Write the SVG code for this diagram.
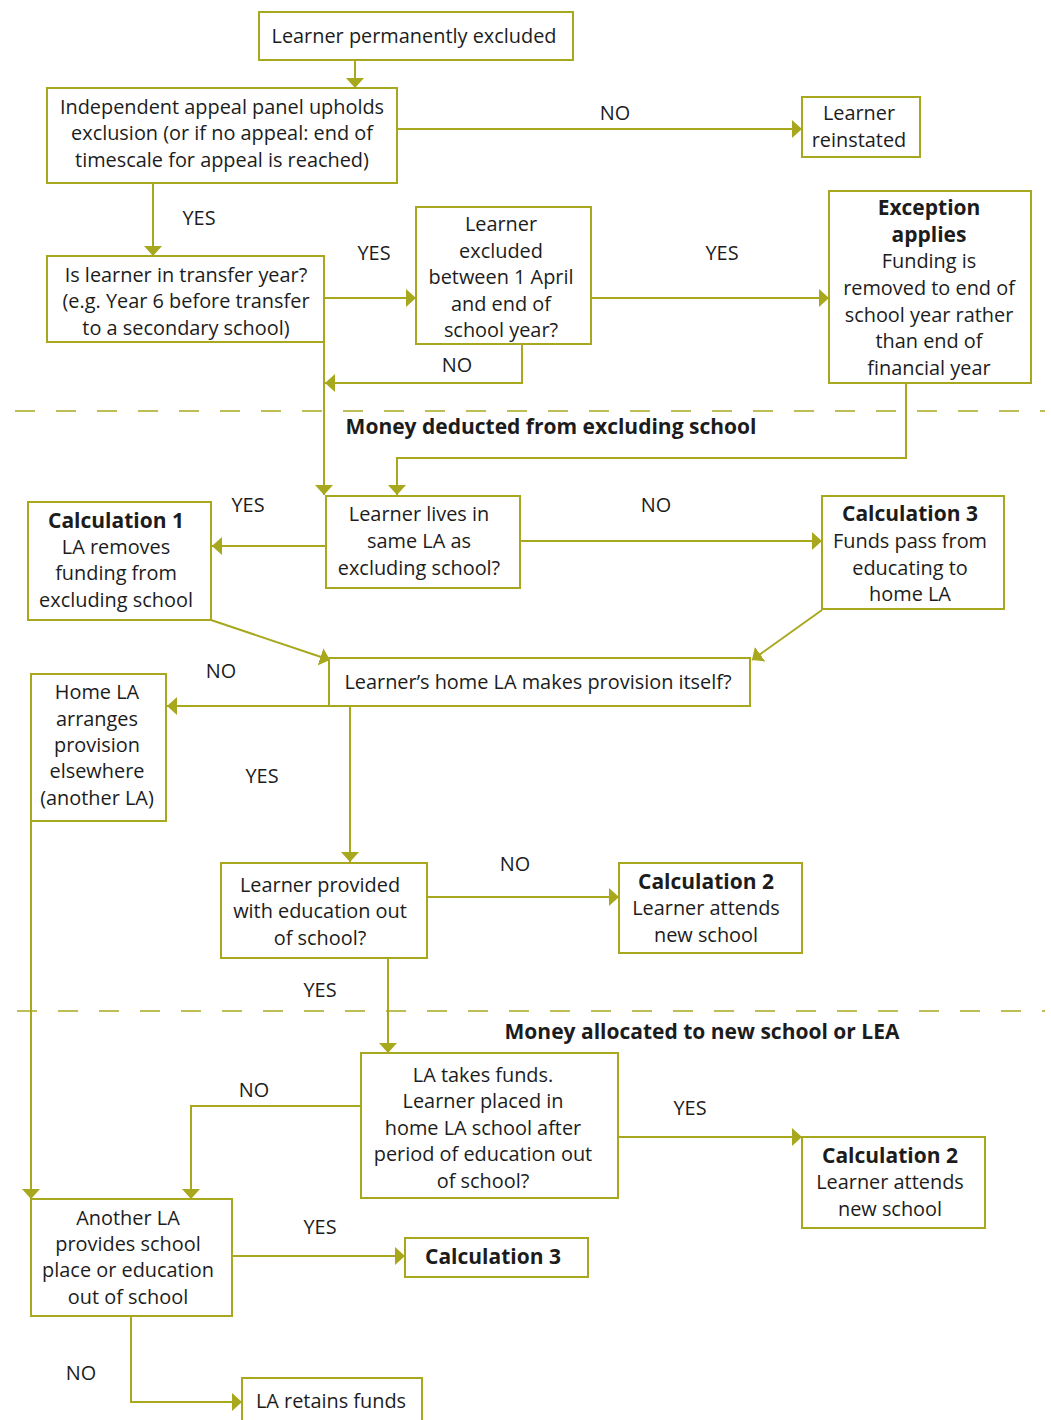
<svg xmlns="http://www.w3.org/2000/svg" width="1051" height="1420" viewBox="0 0 1051 1420">
<style>
.box{fill:#fff;stroke:#A8A81E;stroke-width:2}
.t{font-family:"Open Sans","Noto Sans",sans-serif;font-size:19.9px;fill:#1c1c1c;text-anchor:middle}
.b{font-weight:bold;font-size:21px}
.c{fill:none;stroke:#A8A81E;stroke-width:2}
.d{fill:none;stroke:#A8A81E;stroke-width:1.5;stroke-dasharray:20 21}
</style>
<defs>
<marker id="ah" viewBox="0 0 10 18" refX="10" refY="9" markerWidth="10" markerHeight="18" markerUnits="userSpaceOnUse" orient="auto">
<path d="M0,0 L10,9 L0,18 Z" fill="#A8A81E"/>
</marker>
</defs>
<rect width="1051" height="1420" fill="#fff"/>

<g id="dividers">
<line class="d" x1="15" y1="411" x2="1045" y2="411"/>
<line class="d" x1="17" y1="1011" x2="1045" y2="1011"/>
<text class="t b" x="551" y="434">Money deducted from excluding school</text>
<text class="t b" x="702" y="1039">Money allocated to new school or LEA</text>
</g>

<g id="connectors">
<path class="c" d="M355,60 V88" marker-end="url(#ah)"/>
<path class="c" d="M397,129 H802" marker-end="url(#ah)"/>
<path class="c" d="M153,183 V256" marker-end="url(#ah)"/>
<path class="c" d="M324,298 H416" marker-end="url(#ah)"/>
<path class="c" d="M591,298 H829" marker-end="url(#ah)"/>
<path class="c" d="M522,344 V383 H325" marker-end="url(#ah)"/>
<path class="c" d="M324,342 V495" marker-end="url(#ah)"/>
<path class="c" d="M906,383 V458 H397 V495" marker-end="url(#ah)"/>
<path class="c" d="M326,546 H212" marker-end="url(#ah)"/>
<path class="c" d="M520,541 H822" marker-end="url(#ah)"/>
<path class="c" d="M211,620 L330,660" marker-end="url(#ah)"/>
<path class="c" d="M822,610 L752,660" marker-end="url(#ah)"/>
<path class="c" d="M329,706 H167" marker-end="url(#ah)"/>
<path class="c" d="M350,706 V862" marker-end="url(#ah)"/>
<path class="c" d="M427,897 H619" marker-end="url(#ah)"/>
<path class="c" d="M388,958 V1053" marker-end="url(#ah)"/>
<path class="c" d="M618,1137 H802" marker-end="url(#ah)"/>
<path class="c" d="M361,1106 H191 V1199" marker-end="url(#ah)"/>
<path class="c" d="M31,821 V1199" marker-end="url(#ah)"/>
<path class="c" d="M232,1256 H405" marker-end="url(#ah)"/>
<path class="c" d="M131,1316 V1402 H242" marker-end="url(#ah)"/>
<g class="lbl">
<text class="t" x="615" y="120">NO</text>
<text class="t" x="199" y="225">YES</text>
<text class="t" x="374" y="260">YES</text>
<text class="t" x="722" y="260">YES</text>
<text class="t" x="457" y="372">NO</text>
<text class="t" x="248" y="512">YES</text>
<text class="t" x="656" y="512">NO</text>
<text class="t" x="221" y="678">NO</text>
<text class="t" x="262" y="783">YES</text>
<text class="t" x="515" y="871">NO</text>
<text class="t" x="320" y="997">YES</text>
<text class="t" x="254" y="1097">NO</text>
<text class="t" x="690" y="1115">YES</text>
<text class="t" x="320" y="1234">YES</text>
<text class="t" x="81" y="1380">NO</text>
</g>
</g>

<g id="n1"><rect class="box" x="259" y="12" width="314" height="48"/>
<text class="t" x="414" y="43">Learner permanently excluded</text></g>

<g id="n2"><rect class="box" x="47" y="88" width="350" height="95"/>
<text class="t" x="222" y="114">Independent appeal panel upholds</text>
<text class="t" x="222" y="140">exclusion (or if no appeal: end of</text>
<text class="t" x="222" y="167">timescale for appeal is reached)</text></g>

<g id="n3"><rect class="box" x="802" y="97" width="118" height="60"/>
<text class="t" x="859" y="120">Learner</text>
<text class="t" x="859" y="147">reinstated</text></g>

<g id="n4"><rect class="box" x="47" y="256" width="277" height="86"/>
<text class="t" x="186" y="282">Is learner in transfer year?</text>
<text class="t" x="186" y="308">(e.g. Year 6 before transfer</text>
<text class="t" x="186" y="335">to a secondary school)</text></g>

<g id="n5"><rect class="box" x="416" y="207" width="175" height="137"/>
<text class="t" x="501" y="231">Learner</text>
<text class="t" x="501" y="258">excluded</text>
<text class="t" x="501" y="284">between 1 April</text>
<text class="t" x="501" y="311">and end of</text>
<text class="t" x="501" y="337">school year?</text></g>

<g id="n6"><rect class="box" x="829" y="191" width="202" height="192"/>
<text class="t b" x="929" y="215">Exception</text>
<text class="t b" x="929" y="242">applies</text>
<text class="t" x="929" y="268">Funding is</text>
<text class="t" x="929" y="295">removed to end of</text>
<text class="t" x="929" y="322">school year rather</text>
<text class="t" x="929" y="348">than end of</text>
<text class="t" x="929" y="375">financial year</text></g>

<g id="n7"><rect class="box" x="28" y="502" width="183" height="118"/>
<text class="t b" x="116" y="528">Calculation 1</text>
<text class="t" x="116" y="554">LA removes</text>
<text class="t" x="116" y="580">funding from</text>
<text class="t" x="116" y="607">excluding school</text></g>

<g id="n8"><rect class="box" x="326" y="496" width="194" height="92"/>
<text class="t" x="419" y="521">Learner lives in</text>
<text class="t" x="419" y="548">same LA as</text>
<text class="t" x="419" y="575">excluding school?</text></g>

<g id="n9"><rect class="box" x="822" y="496" width="182" height="113"/>
<text class="t b" x="910" y="521">Calculation 3</text>
<text class="t" x="910" y="548">Funds pass from</text>
<text class="t" x="910" y="575">educating to</text>
<text class="t" x="910" y="601">home LA</text></g>

<g id="n10"><rect class="box" x="329" y="658" width="421" height="48"/>
<text class="t" x="538" y="689">Learner’s home LA makes provision itself?</text></g>

<g id="n11"><rect class="box" x="31" y="674" width="135" height="147"/>
<text class="t" x="97" y="699">Home LA</text>
<text class="t" x="97" y="726">arranges</text>
<text class="t" x="97" y="752">provision</text>
<text class="t" x="97" y="778">elsewhere</text>
<text class="t" x="97" y="805">(another LA)</text></g>

<g id="n12"><rect class="box" x="221" y="863" width="206" height="95"/>
<text class="t" x="320" y="892">Learner provided</text>
<text class="t" x="320" y="918">with education out</text>
<text class="t" x="320" y="945">of school?</text></g>

<g id="n13"><rect class="box" x="619" y="863" width="183" height="90"/>
<text class="t b" x="706" y="889">Calculation 2</text>
<text class="t" x="706" y="915">Learner attends</text>
<text class="t" x="706" y="942">new school</text></g>

<g id="n14"><rect class="box" x="361" y="1053" width="257" height="145"/>
<text class="t" x="483" y="1082">LA takes funds.</text>
<text class="t" x="483" y="1108">Learner placed in</text>
<text class="t" x="483" y="1135">home LA school after</text>
<text class="t" x="483" y="1161">period of education out</text>
<text class="t" x="483" y="1188">of school?</text></g>

<g id="n15"><rect class="box" x="802" y="1137" width="183" height="91"/>
<text class="t b" x="890" y="1163">Calculation 2</text>
<text class="t" x="890" y="1189">Learner attends</text>
<text class="t" x="890" y="1216">new school</text></g>

<g id="n16"><rect class="box" x="31" y="1199" width="201" height="117"/>
<text class="t" x="128" y="1225">Another LA</text>
<text class="t" x="128" y="1251">provides school</text>
<text class="t" x="128" y="1277">place or education</text>
<text class="t" x="128" y="1304">out of school</text></g>

<g id="n17"><rect class="box" x="405" y="1238" width="183" height="39"/>
<text class="t b" x="493" y="1264">Calculation 3</text></g>

<g id="n18"><rect class="box" x="242" y="1378" width="180" height="50"/>
<text class="t" x="331" y="1408">LA retains funds</text></g>
</svg>
